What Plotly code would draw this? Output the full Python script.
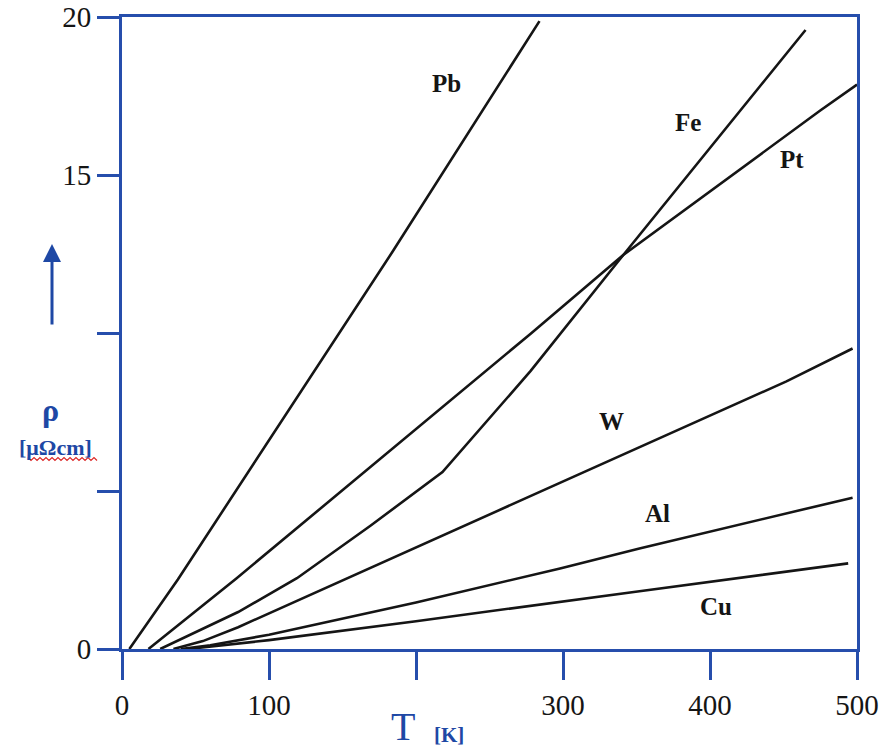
import plotly.graph_objects as go

# ---- data (T in K, rho in µΩcm) ----
pb_T = [5, 38, 184, 284]
pb_rho = [0, 2.2, 12.57, 19.87]

pt_T = [18, 78, 278, 341, 475, 500]
pt_rho = [0, 2.24, 9.98, 12.47, 17.04, 17.86]

fe_T = [26, 79, 119, 169, 218, 278, 341, 465]
fe_rho = [0, 1.17, 2.24, 3.9, 5.6, 8.8, 12.47, 19.59]

w_T = [35, 55, 79, 150, 278, 452, 497]
w_rho = [0, 0.25, 0.69, 2.17, 4.85, 8.47, 9.51]

al_T = [40, 60, 100, 200, 298, 352, 497]
al_rho = [0, 0.12, 0.45, 1.47, 2.55, 3.18, 4.79]

cu_T = [45, 65, 100, 200, 298, 352, 494]
cu_rho = [0, 0.1, 0.28, 0.88, 1.48, 1.83, 2.71]

labels = ["Pb", "Fe", "Pt", "W", "Al", "Cu"]
label_T = [221, 385, 456, 333, 364, 404]
label_rho = [17.9, 16.66, 15.5, 7.21, 4.28, 1.35]

x_ticks = [0, 100, 200, 300, 400, 500]
x_ticktext = ["0", "100", "", "300", "400", "500"]
y_ticks = [0, 5, 10, 15, 20]
y_ticktext = ["0", "", "", "15", "20"]

BLUE = "rgb(38,78,172)"
TXTBLUE = "rgb(30,72,165)"
LINE = "#151515"
SERIF = "Liberation Serif"

W_FIG, H_FIG = 882, 749
L, R, T_M, B = 122, 25, 17, 100
PW, PH = W_FIG - L - R, H_FIG - T_M - B


def px2paper(px, py):
    return (px - L) / PW, (H_FIG - B - py) / PH


fig = go.Figure()
for T, r in [(pb_T, pb_rho), (pt_T, pt_rho), (fe_T, fe_rho),
             (w_T, w_rho), (al_T, al_rho), (cu_T, cu_rho)]:
    fig.add_trace(go.Scatter(x=T, y=r, mode="lines",
                             line=dict(color=LINE, width=2.6),
                             showlegend=False, hoverinfo="skip", cliponaxis=False))

for name, t, r in zip(labels, label_T, label_rho):
    fig.add_annotation(x=t, y=r, text="<b>" + name + "</b>", showarrow=False,
                       xanchor="center", yanchor="middle",
                       font=dict(family=SERIF, size=25, color="#151515"))

fig.update_layout(
    width=W_FIG, height=H_FIG,
    margin=dict(l=L, r=R, t=T_M, b=B, autoexpand=False),
    paper_bgcolor="white", plot_bgcolor="white",
    xaxis=dict(range=[0, 500], tickvals=x_ticks, ticktext=x_ticktext,
               automargin=False, ticklabeloverflow="allow",
               showgrid=False, zeroline=False, showline=True, mirror=True,
               linecolor=BLUE, linewidth=3, ticks="outside", ticklen=28,
               tickwidth=3, tickcolor=BLUE,
               tickfont=dict(family=SERIF, size=29, color="#151515")),
    yaxis=dict(range=[0, 20], tickvals=y_ticks, ticktext=y_ticktext,
               automargin=False, ticklabeloverflow="allow",
               showgrid=False, zeroline=False, showline=True, mirror=True,
               linecolor=BLUE, linewidth=3, ticks="outside", ticklen=22,
               tickwidth=3, tickcolor=BLUE,
               tickfont=dict(family=SERIF, size=29, color="#151515")),
)


def ann(px, py, text, size):
    x, y = px2paper(px, py)
    fig.add_annotation(xref="paper", yref="paper", x=x, y=y, text=text,
                       showarrow=False, xanchor="center", yanchor="middle",
                       font=dict(family=SERIF, size=size, color=TXTBLUE))


# axis titles (positions in page pixels)
ann(403, 726, "T", 40)
ann(449, 735, "<b>[K]</b>", 21)
ann(50, 410, "<b>ρ</b>", 32)
ann(55, 447, "<b>[μΩcm]</b>", 22)

# upward arrow
ax_, ay_ = px2paper(52, 244)
fig.add_annotation(xref="paper", yref="paper", x=ax_, y=ay_, text="",
                   showarrow=True, ax=0, ay=82, arrowhead=2, arrowsize=1.2,
                   arrowwidth=3, arrowcolor=TXTBLUE)

# red spell-check squiggle under "Ωcm"
x0, x1, yb = 28, 98, 459
pts = []
n = 0
x = x0
while x <= x1:
    yy = yb + (1.5 if n % 2 else -1.5)
    pts.append(px2paper(x, yy))
    x += 3
    n += 1
path = "M " + " L ".join(f"{px:.4f},{py:.4f}" for px, py in pts)
fig.add_shape(type="path", xref="paper", yref="paper", path=path,
              line=dict(color="rgb(220,40,40)", width=1.2))

fig.write_html("out.html",
               config={"displayModeBar": False},
               post_script="document.body.style.margin='0';")
